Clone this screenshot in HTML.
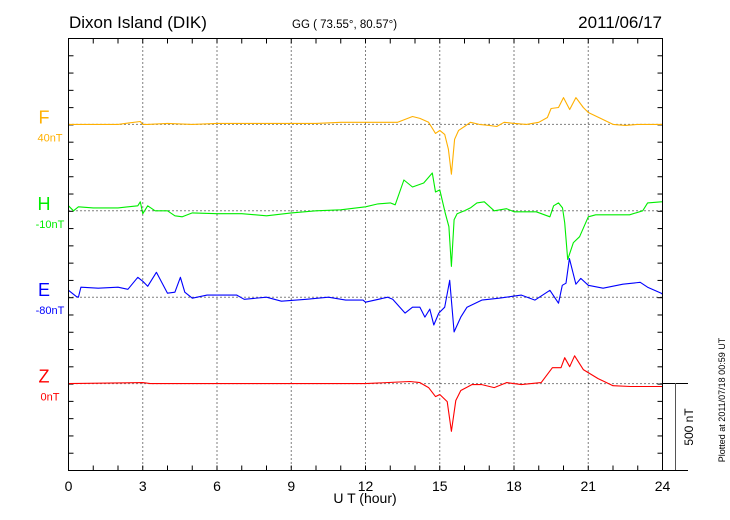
<!DOCTYPE html>
<html><head><meta charset="utf-8"><style>
body{margin:0;background:#fff}
svg{display:block;font-family:"Liberation Sans",sans-serif}
</style></head><body>
<svg id="chart" width="730" height="520" viewBox="0 0 730 520">
<text x="69" y="28" font-size="17">Dixon Island (DIK)</text>
<text x="292" y="28" font-size="11.5">GG ( 73.55°,  80.57°)</text>
<text x="662" y="28" font-size="17" text-anchor="end">2011/06/17</text>
<g id="grid"></g>
<g id="series"></g>
<rect x="68.5" y="38.5" width="594" height="432" fill="none" stroke="#000" stroke-width="1"/>
<text x="365" y="503" font-size="14" text-anchor="middle">U T (hour)</text>
<g>
<line x1="662" y1="383.5" x2="688" y2="383.5" stroke="#000"/>
<line x1="662" y1="470.5" x2="688" y2="470.5" stroke="#000"/>
<line x1="675.5" y1="383" x2="675.5" y2="470" stroke="#555"/>
</g>
<text transform="translate(693,427) rotate(-90)" font-size="12" text-anchor="middle">500 nT</text>
<text transform="translate(725,400) rotate(-90)" font-size="9" text-anchor="middle">Plotted at 2011/07/18 00:59 UT</text>
</svg>
<script>
const xTicks=[0,3,6,9,12,15,18,21,24];
const seriesNames=["F","H","E","Z"];
const seriesOffsets=["40nT","-10nT","-80nT","0nT"];
const fH=[0,1,2,2.9,3.0,3.2,4,5,6,7,8,9,10,11,12,12.5,13.3,13.6,13.9,14.2,14.55,14.83,15.0,15.2,15.35,15.47,15.6,15.76,16.0,16.24,16.6,17.0,17.3,17.6,18.0,18.5,19.0,19.35,19.5,19.8,20.0,20.25,20.5,20.8,21.0,21.5,22.0,22.5,23,24];
const fV=[0,0,0,17,0,0,6,0,6,6,6,6,6,12,12,12,12,29,46,35,12,-52,-35,-58,-144,-288,-86,-35,-12,12,0,-6,-12,12,6,0,12,40,92,98,155,86,155,98,69,35,0,-6,0,0];
const hH=[0,0.2,0.4,1,2,2.8,2.9,3.0,3.2,3.5,4,4.3,4.6,5,6,7,8,9,10,11,12,12.5,13,13.2,13.55,13.9,14.35,14.7,14.83,15.0,15.23,15.37,15.47,15.58,15.7,16.0,16.24,16.5,16.8,17.2,17.7,18,18.9,19.45,19.6,19.8,19.96,20.05,20.17,20.4,20.65,21.0,21.3,22.67,23.2,23.4,23.95,24];
const hV=[29,0,23,17,17,29,52,-17,29,0,0,-29,-35,-12,-17,-17,-29,-12,0,6,23,40,46,35,178,138,161,219,109,121,-17,-92,-322,-52,-17,0,17,46,52,0,12,-6,-6,-35,29,46,17,-69,-282,-184,-150,-35,-23,-23,0,46,52,52];
const eH=[0,0.3,0.4,0.5,1.2,2,2.4,2.8,3.0,3.2,3.55,4.0,4.3,4.52,4.7,5.0,5.6,6.8,7.1,8,8.6,9.6,10.5,11.2,11.9,12.0,12.9,13.1,13.6,13.9,14.2,14.4,14.6,14.76,14.96,15.2,15.4,15.58,15.85,16.1,16.7,17.4,18.3,18.85,19.45,19.8,19.95,20.1,20.24,20.5,20.7,21,21.6,22.4,23.1,23.4,23.95,24];
const eV=[40,6,0,58,52,58,46,115,92,63,144,23,29,115,29,-6,12,12,-12,0,-23,-12,0,-17,-17,-29,0,-12,-92,-58,-58,-115,-69,-161,-92,-58,98,-201,-115,-58,-17,-6,12,-17,40,-35,69,81,224,75,109,69,52,75,86,58,23,17];
const zH=[0,3,3.3,6,9,12,13.8,14.2,14.55,14.83,15,15.3,15.47,15.65,15.85,16.3,16.7,17.2,17.7,18.3,19.1,19.55,19.9,20.05,20.25,20.45,20.8,21.4,22.0,22.7,24];
const zV=[0,6,0,0,0,0,12,6,-23,-75,-63,-104,-276,-98,-40,-6,-6,-23,6,-6,6,92,92,150,98,161,81,29,-12,-17,-17];

const NS="http://www.w3.org/2000/svg";
const X0=68.5,X1=662.5,Y0=38.5,Y1=470.5;
const baselines=[124.4,210.8,297.2,383.6];
const colors=["#ffb000","#00ee00","#0000ff","#ff0000"];
const pxPerNT=86.4/500;
function xs(h){return X0+(X1-X0)*h/24;}
function ys(v,i){return baselines[i]-v*pxPerNT;}
function mk(tag,attrs,parent){const e=document.createElementNS(NS,tag);for(const k in attrs)e.setAttribute(k,attrs[k]);parent.appendChild(e);return e;}
const grid=document.getElementById('grid');
for(let h=1;h<24;h++){
  const x=xs(h);
  const t1=mk('line',{x1:x,y1:Y0,x2:x,y2:Y0+5,stroke:'#000'},grid);
  
  
  const t2=mk('line',{x1:x,y1:Y1,x2:x,y2:Y1-5,stroke:'#000'},grid);
  
  
}
xTicks.forEach(h=>{
  const x=xs(h);
  if(h>0&&h<24){
    const g=mk('line',{x1:x,y1:Y0,x2:x,y2:Y1,stroke:'#000','stroke-dasharray':'1,3'},grid);
    
    
  }
  const t=mk('text',{x:x,y:491,'font-size':14,'text-anchor':'middle'},grid);
  t.textContent=h;
  
  
});
for(let k=1;k<25;k++){
  const y=Y0+k*(Y1-Y0)/25;
  const a=mk('line',{x1:X0,y1:y,x2:X0+5,y2:y,stroke:'#000'},grid);
  
  
  const b=mk('line',{x1:X1,y1:y,x2:X1-5,y2:y,stroke:'#000'},grid);
  
  
}
baselines.forEach((y,i)=>{
  const l=mk('line',{x1:X0,y1:y,x2:X1,y2:y,stroke:'#000','stroke-dasharray':'1,3'},grid);
  
  
  const n=mk('text',{x:44,y:y-1,'font-size':18,'text-anchor':'middle',fill:colors[i]},grid);
  n.textContent=seriesNames[i];
  
  
  const o=mk('text',{x:50,y:y+17,'font-size':11,'text-anchor':'middle',fill:colors[i]},grid);
  o.textContent=seriesOffsets[i];
  
  
});
const sg=document.getElementById('series');
[[fH,fV],[hH,hV],[eH,eV],[zH,zV]].forEach((s,i)=>{
  const d=s[0].map((h,j)=>(j?'L':'M')+xs(h).toFixed(1)+','+ys(s[1][j],i).toFixed(1)).join('');
  const p=mk('path',{d:d,fill:'none',stroke:colors[i],'stroke-width':1.1,'stroke-linejoin':'round'},sg);
  
  
});
</script>
</body></html>
